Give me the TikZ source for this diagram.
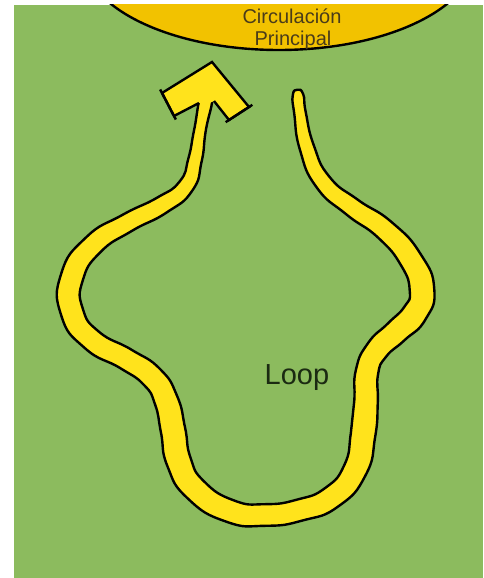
\documentclass[tikz,border=0pt]{standalone}
\usepackage{fontspec}
\setmainfont{Liberation Sans}
\usetikzlibrary{calc}
\definecolor{bggreen}{HTML}{8CBB5E}
\definecolor{bandyellow}{HTML}{FFE31C}
\definecolor{poolgold}{HTML}{F2C200}
\definecolor{labelbrown}{HTML}{4A3C1A}
\definecolor{labeldark}{HTML}{1B2A12}
\tikzset{
  outline/.style={draw=black, line width=2.4pt, line join=miter},
  bandstyle/.style={draw=black, fill=bandyellow, line width=2.4pt, line join=round},
  lbl/.style={inner sep=0pt, align=center}
}
\begin{document}
\begin{tikzpicture}[x=1pt,y=-1pt]
\useasboundingbox (0,0) rectangle (483,578);
\fill[white] (0,0) rectangle (483,578);
\fill[bggreen] (14,5) rectangle (483,578);
% main circulation
\begin{scope}
  \clip (14,5) rectangle (483,578);
  \draw[fill=poolgold, line width=2.4pt] (279,-45) ellipse [x radius=196, y radius=95];
\end{scope}
\node[lbl, text=labelbrown, font=\fontsize{20}{22}\selectfont] (circ) at (292,16) {Circulación};
\node[lbl, text=labelbrown, font=\fontsize{20}{22}\selectfont] (princ) at (293,40) {Principal};
% loop centre line
\foreach \i/\x/\y in {0/207/95,1/200/130,2/195/160,3/186/186,4/162/205,5/127/223,6/93/245,7/72/277,8/72/312,9/92/340,10/126/359,11/152/377,12/166/400,13/173/430,14/179/462,15/196/490,16/230/511,17/265/515,18/300/510,19/332/497,20/355/470,21/363/435,22/366/402,23/367/372,24/377/350,25/396/332,26/415/313,27/422/290,28/411/260,29/385/230,30/352/207,31/323/182,32/307/148,33/300/113,34/298/95}{
  \coordinate (c\i) at (\x,\y);
}
% edges of the band
\coordinate (L0) at ($(c0)!5.3pt!90:(c1)$);
\coordinate (R0) at ($(c0)!5.3pt!-90:(c1)$);
\foreach \i/\w in {1/14,2/16,3/18,4/20,5/21,6/23,7/25,8/25,9/24,10/24,11/25,12/26,13/27,14/27,15/26,16/25,17/24,18/24,19/25,20/26,21/27,22/26,23/25,24/25,25/26,26/27,27/27,28/25,29/23,30/21,31/19,32/17,33/14}{
  \pgfmathtruncatemacro\iprev{\i-1}
  \pgfmathtruncatemacro\inext{\i+1}
  \pgfmathsetmacro\hw{\w/2-1.2}
  \coordinate (L\i) at ($(c\i) + (c\iprev)!\hw pt!90:(c\inext) - (c\iprev)$);
  \coordinate (R\i) at ($(c\i) + (c\iprev)!\hw pt!-90:(c\inext) - (c\iprev)$);
}
\coordinate (L34) at ($(c34) + (c33)!5.3pt!90:(c34) - (c33)$);
\coordinate (R34) at ($(c34) + (c33)!5.3pt!-90:(c34) - (c33)$);
\coordinate (T) at ($(c34) + (c33)!5.3pt!(c34) - (c33)$);
\draw[bandstyle] plot[smooth cycle, tension=0.9] coordinates {
  (L0) (L1) (L2) (L3) (L4) (L5) (L6) (L7) (L8) (L9) (L10) (L11) (L12) (L13) (L14) (L15) (L16)
  (L17) (L18) (L19) (L20) (L21) (L22) (L23) (L24) (L25) (L26) (L27) (L28) (L29) (L30) (L31) (L32) (L33) (L34)
  (T)
  (R34) (R33) (R32) (R31) (R30) (R29) (R28) (R27) (R26) (R25) (R24) (R23) (R22) (R21) (R20) (R19) (R18) (R17)
  (R16) (R15) (R14) (R13) (R12) (R11) (R10) (R9) (R8) (R7) (R6) (R5) (R4) (R3) (R2) (R1) (R0)};
% arrow head
\coordinate (A) at (212,62);
\coordinate (LO) at (162,93);
\coordinate (LI) at (174,116);
\coordinate (LJ) at (199,103);
\coordinate (N) at (207,104);
\coordinate (RJ) at (214,101);
\coordinate (RI) at (229,120);
\coordinate (RO) at (249,107);
\fill[bandyellow] (A) -- (LO) -- (LI) -- (LJ) -- (N) -- (RJ) -- (RI) -- (RO) -- cycle;
\draw[outline] (LJ) -- (LI) -- (LO) -- (A) -- (RO) -- (RI) -- (RJ);
\draw[outline, shorten <=-4pt, shorten >=-4pt] (LO) -- (LI);
\draw[outline, shorten <=-4pt, shorten >=-4pt] (RO) -- (RI);
\node[lbl, text=labeldark, font=\fontsize{29}{31}\selectfont] (loop) at (297,378) {Loop};
\end{tikzpicture}
\end{document}
